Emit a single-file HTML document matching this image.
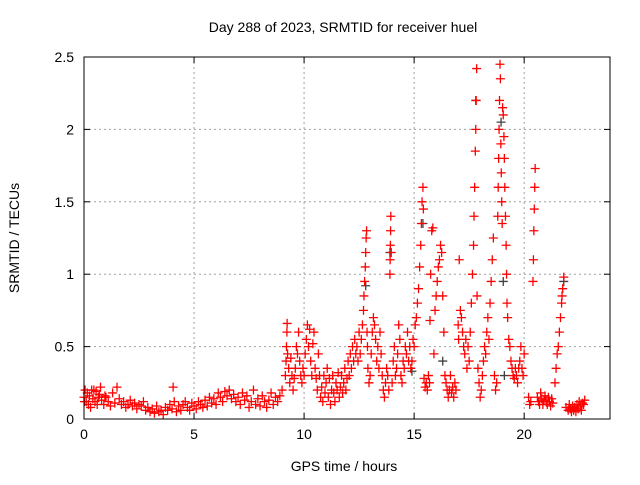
<!DOCTYPE html>
<html><head><meta charset="utf-8"><style>
body{margin:0;background:#fff;}
svg text{font-family:"Liberation Sans",sans-serif;font-size:14px;fill:#000;}
</style></head><body>
<svg id="chart" width="640" height="480" viewBox="0 0 640 480" xmlns="http://www.w3.org/2000/svg">
<rect width="640" height="480" fill="#fff"/>
<text x="343" y="32" text-anchor="middle">Day 288 of 2023, SRMTID for receiver huel</text>
<text x="0" y="0" text-anchor="middle" transform="translate(19,238) rotate(-90)">SRMTID / TECUs</text>
<text x="344" y="471" text-anchor="middle">GPS time / hours</text>
<g id="grid"></g>
<g id="axes"></g>
<g id="marks"></g>
<rect x="84" y="57" width="526" height="362" fill="none" stroke="#000" stroke-width="1"/>
</svg>
<script>
const xTicks = [0, 5, 10, 15, 20];
const yTicks = [0, 0.5, 1, 1.5, 2, 2.5];
const yTickLabels = ["0", "0.5", "1", "1.5", "2", "2.5"];
const samples = [
[0.0,.15],[0.02,.12],[0.05,.2],[0.1,.12],[0.15,.18],[0.2,.1],[0.25,.16],[0.3,.08],[0.35,.2],[0.4,.14],[0.45,.2],[0.5,.12],[0.55,.19],[0.6,.1],[0.65,.15],[0.7,.17],[0.75,.22],[0.8,.13],[0.9,.1],[0.95,.16],[1.0,.15],[1.1,.12],[1.2,.09],[1.3,.18],[1.4,.11],[1.5,.22],[1.6,.14],[1.7,.1],[1.8,.12],[1.9,.08],[2.0,.1],[2.1,.13],[2.2,.09],[2.3,.11],[2.4,.07],[2.5,.1],[2.6,.09],[2.7,.12],[2.8,.06],[2.9,.08],[3.0,.05],[3.1,.07],[3.2,.04],[3.3,.09],[3.4,.05],[3.5,.06],[3.6,.03],[3.7,.08],[3.8,.06],[3.9,.1],[4.0,.07],[4.05,.22],[4.1,.12],[4.2,.05],[4.3,.09],[4.4,.06],[4.5,.1],[4.6,.12],[4.7,.08],[4.8,.06],[4.9,.11],[5.0,.09],[5.1,.07],[5.2,.12],[5.3,.1],[5.4,.08],[5.5,.13],[5.6,.09],[5.7,.15],[5.8,.11],[5.9,.14],[6.0,.1],[6.1,.18],[6.2,.15],[6.3,.12],[6.4,.19],[6.5,.16],[6.6,.2],[6.7,.14],[6.8,.17],[6.9,.12],[7.0,.15],[7.1,.1],[7.2,.18],[7.3,.13],[7.4,.16],[7.5,.08],[7.6,.12],[7.7,.2],[7.8,.1],[7.9,.14],[8.0,.09],[8.1,.16],[8.2,.12],[8.3,.08],[8.4,.13],[8.5,.18],[8.6,.1],[8.7,.15],[8.8,.12],[8.9,.16],[9.0,.2],
[9.15,.3],[9.18,.4],[9.2,.5],[9.22,.6],[9.23,.66],[9.25,.45],[9.3,.35],[9.35,.25],[9.4,.42],[9.45,.3],[9.5,.2],[9.55,.28],[9.6,.35],[9.65,.5],[9.7,.45],[9.75,.6],[9.8,.4],[9.85,.3],[9.9,.25],[9.95,.35],[10.0,.3],[10.05,.45],[10.1,.55],[10.15,.65],[10.2,.5],[10.25,.62],[10.3,.4],[10.35,.3],[10.4,.52],[10.45,.6],[10.5,.35],[10.55,.28],[10.6,.2],[10.65,.45],[10.7,.3],[10.75,.15],[10.8,.22],[10.85,.12],[10.9,.3],[10.95,.18],[11.0,.25],[11.05,.35],[11.1,.15],[11.15,.28],[11.2,.1],[11.25,.2],[11.3,.3],[11.35,.18],[11.4,.12],[11.45,.25],[11.5,.2],[11.55,.32],[11.6,.15],[11.65,.22],[11.7,.3],[11.75,.18],[11.8,.25],[11.85,.35],[11.9,.2],[11.95,.28],[12.0,.4],[12.05,.3],[12.1,.45],[12.15,.35],[12.2,.5],[12.25,.4],[12.3,.55],[12.35,.45],[12.4,.5],[12.45,.4],[12.5,.6],[12.55,.45],[12.6,.55],[12.65,.65],[12.7,.75],[12.72,.85],[12.75,.95],[12.78,1.05],[12.8,1.15],[12.82,1.25],[12.84,1.3],[12.86,.6],[12.88,.5],[12.9,.35],[12.95,.25],[13.0,.3],[13.05,.45],[13.1,.6],[13.15,.7],[13.2,.65],[13.25,.55],[13.3,.4],[13.35,.5],[13.4,.35],[13.45,.6],[13.5,.45],[13.55,.3],[13.6,.2],[13.65,.15],[13.7,.25],[13.75,.35],[13.8,.3],[13.85,.2],[13.9,1.0],[13.91,1.1],[13.92,1.2],[13.93,1.3],[13.94,1.4],[13.96,1.15],[14.0,.25],[14.05,.4],[14.1,.5],[14.15,.3],[14.2,.35],[14.25,.45],[14.3,.65],[14.35,.55],[14.4,.3],[14.45,.25],[14.5,.4],[14.55,.35],[14.6,.5],[14.65,.45],[14.7,.6],[14.75,.4],[14.8,.5],[14.85,.35],[14.9,.4],[14.95,.55],[15.0,.5],[15.05,.65],[15.1,.7],[15.15,.8],[15.2,.9],[15.25,1.05],[15.3,1.2],[15.33,1.35],[15.36,1.5],[15.4,1.6],[15.42,1.45],[15.45,.28],[15.5,.22],[15.55,.25],[15.6,.2],[15.65,.3],[15.7,.25],[15.72,.68],[15.75,1.0],[15.8,1.3],[15.85,1.32],[15.9,.45],[15.95,.75],[16.0,.85],[16.05,.95],[16.1,1.05],[16.15,1.1],[16.2,1.2],[16.25,1.15],[16.3,.85],[16.35,.6],[16.4,.3],[16.45,.25],[16.5,.2],[16.55,.15],[16.6,.2],[16.65,.3],[16.7,.18],[16.75,.22],[16.8,.15],[16.85,.25],[16.9,.2],[17.0,.65],[17.02,.55],[17.05,1.1],[17.1,.75],[17.15,.7],[17.2,.6],[17.25,.5],[17.3,.45],[17.35,.55],[17.4,.35],[17.45,.5],[17.5,.4],[17.55,.6],[17.6,.8],[17.65,1.0],[17.7,1.2],[17.72,1.4],[17.75,1.6],[17.78,1.85],[17.8,2.0],[17.82,2.2],[17.84,2.42],[17.86,.85],[17.9,.35],[17.95,.25],[18.0,.15],[18.05,.2],[18.1,.3],[18.15,.4],[18.2,.5],[18.25,.45],[18.3,.6],[18.35,.7],[18.4,.55],[18.45,.8],[18.5,.95],[18.55,1.1],[18.6,1.25],[18.65,.3],[18.7,.2],[18.75,.25],[18.8,1.4],[18.82,1.6],[18.84,1.8],[18.86,2.0],[18.88,2.2],[18.9,2.45],[18.92,2.35],[18.94,1.9],[18.96,1.7],[18.98,1.5],[19.0,1.35],[19.02,2.15],[19.05,2.1],[19.08,1.95],[19.1,1.8],[19.12,1.6],[19.15,1.4],[19.18,1.2],[19.2,1.0],[19.22,.8],[19.25,.7],[19.3,.55],[19.35,.5],[19.4,.4],[19.45,.35],[19.5,.3],[19.55,.28],[19.6,.35],[19.65,.3],[19.7,.25],[19.75,.35],[19.8,.4],[19.85,.5],[19.9,.35],[19.95,.3],[20.0,.45],[20.2,.15],[20.25,.1],[20.3,.12],[20.4,.95],[20.42,1.1],[20.44,1.3],[20.46,1.45],[20.48,1.6],[20.5,1.73],[20.6,.15],[20.65,.12],[20.7,.1],[20.75,.18],[20.8,.14],[20.85,.1],[20.9,.13],[20.95,.16],[21.0,.12],[21.05,.1],[21.1,.15],[21.15,.12],[21.2,.09],[21.25,.14],[21.3,.11],[21.4,.25],[21.45,.35],[21.5,.45],[21.55,.5],[21.6,.6],[21.65,.7],[21.7,.8],[21.72,.85],[21.75,.9],[21.8,.98],[21.9,.08],[22.0,.06],[22.05,.1],[22.1,.07],[22.15,.05],[22.2,.09],[22.25,.06],[22.3,.08],[22.35,.05],[22.4,.1],[22.45,.07],[22.5,.12],[22.55,.09],[22.6,.06],[22.65,.11],[22.7,.1],[22.75,.13]
];
const samplesGray = [[12.8,.92],[13.9,1.15],[15.4,1.35],[17.8,2.2],[18.95,2.05],[19.05,.95],[19.1,.3],[21.8,.95],[14.9,.33],[16.3,.4]];

const L=84,R=610,T=57,B=419,X0=0,X1=23.9,Y0=0,Y1=2.5;
function xs(v){return L+(v-X0)/(X1-X0)*(R-L);}
function ys(v){return B-(v-Y0)/(Y1-Y0)*(B-T);}
const NS="http://www.w3.org/2000/svg";
function mk(tag,attrs,parent){const e=document.createElementNS(NS,tag);for(const k in attrs)e.setAttribute(k,attrs[k]);parent.appendChild(e);return e;}
const grid=document.getElementById('grid'),axes=document.getElementById('axes'),marks=document.getElementById('marks');
xTicks.forEach((t,i)=>{const x=xs(t);
 if(t>X0){const g=mk('line',{x1:x,x2:x,y1:T,y2:B,stroke:'#a0a0a0','stroke-dasharray':'2,3'},grid);
 
 }
 mk('line',{x1:x,x2:x,y1:B,y2:B-6,stroke:'#000'},axes);
 mk('line',{x1:x,x2:x,y1:T,y2:T+6,stroke:'#000'},axes);
 const tx=mk('text',{x:x,y:B+20,'text-anchor':'middle'},axes);tx.textContent=String(t);
 
 
});
yTicks.forEach((t,i)=>{const y=ys(t);
 if(t>Y0&&t<Y1){const g=mk('line',{x1:L,x2:R,y1:y,y2:y,stroke:'#a0a0a0','stroke-dasharray':'2,3'},grid);
 
 }
 mk('line',{x1:L,x2:L+6,y1:y,y2:y,stroke:'#000'},axes);
 mk('line',{x1:R,x2:R-6,y1:y,y2:y,stroke:'#000'},axes);
 const tx=mk('text',{x:L-10,y:y+5,'text-anchor':'end'},axes);tx.textContent=yTickLabels[i];
 
 
});
function plus(p,color){const x=xs(p[0]),y=ys(p[1]);
 const e=mk('path',{d:`M${x-4.5},${y}H${x+4.5}M${x},${y-4.5}V${y+4.5}`,stroke:color,'stroke-width':1.3,fill:'none'},marks);
 
 
}
samplesGray.forEach(p=>plus(p,'#404040'));
samples.forEach(p=>plus(p,'#ff0000'));
</script>
</body></html>
